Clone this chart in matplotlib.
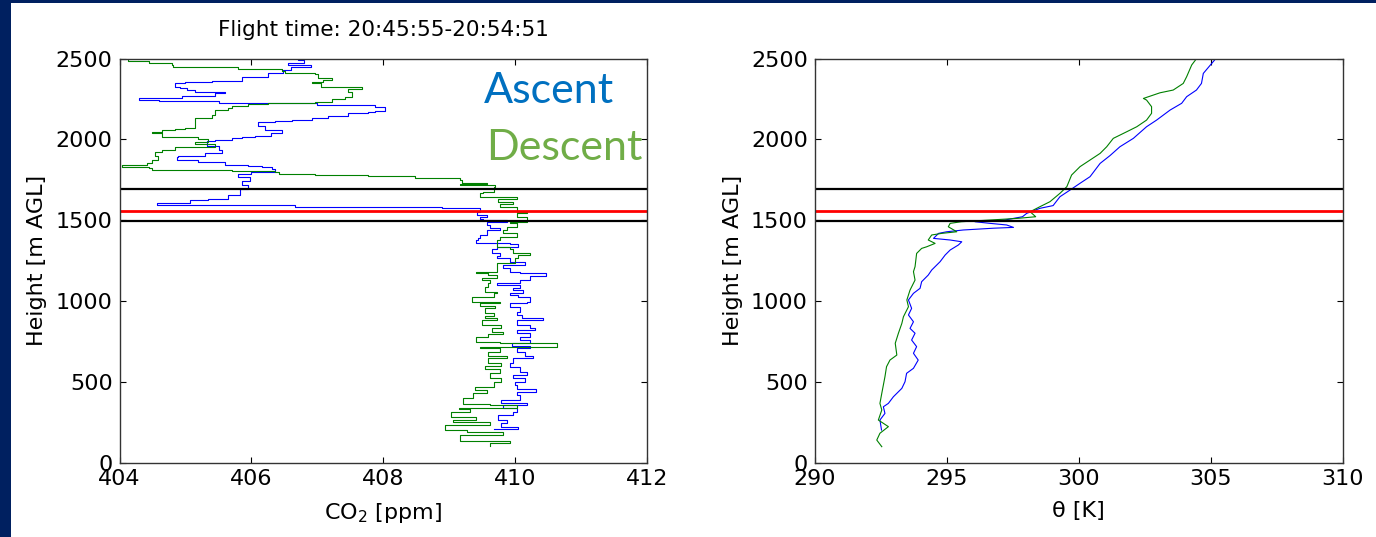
import matplotlib
matplotlib.use('Agg')
import matplotlib.pyplot as plt
from matplotlib.patches import Rectangle

# ---- CO2 ascent (blue), bottom -> top
co2_asc_h = [205, 218, 243, 263, 294, 314, 335, 356, 370, 387,
             418, 438, 453, 480, 500, 521, 541, 562, 593, 614,
             645, 659, 686, 707, 721, 740, 758, 778, 800, 820,
             830, 851, 882, 892, 913, 933, 964, 985, 995, 1026,
             1036, 1047, 1067, 1078, 1098, 1113, 1129, 1154, 1171, 1181,
             1202, 1222, 1243, 1264, 1278, 1298, 1319, 1335, 1352, 1360,
             1377, 1390, 1408, 1439, 1449, 1470, 1490, 1501, 1510, 1521,
             1531, 1552, 1573, 1583, 1595, 1606, 1612, 1625, 1629, 1655,
             1690, 1720, 1745, 1765, 1785, 1800, 1816, 1829, 1835, 1841,
             1860, 1872, 1890, 1897, 1915, 1934, 1960, 1991, 1996, 2008,
             2014, 2020, 2040, 2060, 2080, 2109, 2115, 2119, 2130, 2144,
             2161, 2171, 2177, 2198, 2212, 2223, 2235, 2243, 2258, 2268,
             2288, 2290, 2305, 2317, 2325, 2348, 2355, 2361, 2385, 2410,
             2429, 2445, 2460, 2475, 2490, 2510]
co2_asc = [409.67, 410.04, 409.79, 409.87, 409.74, 409.97, 410.02, 409.82, 410.17, 409.79,
           410.07, 410.02, 410.32, 410.02, 409.99, 410.15, 409.97, 410.17, 410.07, 409.92,
           409.97, 410.27, 410.15, 410.02, 410.22, 409.95, 410.22, 410.07, 410.22, 410.02,
           410.30, 410.22, 410.02, 410.42, 410.10, 410.02, 410.07, 409.92, 410.17, 410.22,
           410.04, 409.92, 410.12, 409.97, 410.07, 409.72, 410.07, 410.22, 410.47, 410.07,
           409.92, 409.82, 410.15, 409.92, 409.72, 409.77, 409.64, 409.72, 410.04, 409.92,
           409.41, 409.43, 409.46, 409.57, 409.77, 409.62, 409.57, 409.87, 409.51, 409.46,
           409.57, 409.42, 409.47, 408.89, 406.66, 404.57, 405.07, 405.07, 405.34, 405.64,
           405.82, 405.95, 405.85, 405.98, 405.80, 406.00, 406.36, 406.31, 406.16, 405.95,
           405.60, 405.19, 404.87, 404.89, 405.29, 405.55, 405.50, 405.33, 405.45, 405.70,
           405.86, 406.05, 406.30, 406.46, 406.20, 406.10, 406.36, 406.61, 406.92, 407.16,
           407.46, 407.77, 407.87, 408.02, 407.87, 407.00, 405.50, 404.60, 404.30, 404.95,
           405.45, 405.60, 405.14, 405.02, 404.92, 404.84, 404.99, 405.40, 405.86, 406.25,
           406.48, 406.60, 406.90, 406.55, 406.80, 406.70]

# ---- CO2 descent (green), top -> bottom
co2_dsc_h = [2501, 2487, 2470, 2460, 2449, 2435, 2425, 2408, 2404, 2377,
             2367, 2356, 2346, 2326, 2309, 2295, 2264, 2248, 2233, 2223,
             2217, 2206, 2192, 2181, 2150, 2130, 2119, 2068, 2062, 2058,
             2047, 2037, 2012, 2000, 1985, 1969, 1954, 1934, 1923, 1897,
             1872, 1851, 1841, 1827, 1821, 1810, 1806, 1800, 1783, 1779,
             1773, 1762, 1759, 1748, 1728, 1723, 1717, 1703, 1676, 1666,
             1645, 1629, 1614, 1600, 1583, 1552, 1542, 1521, 1490, 1480,
             1459, 1439, 1418, 1397, 1377, 1335, 1320, 1294, 1284, 1264,
             1233, 1181, 1171, 1160, 1140, 1129, 1109, 1088, 1057, 1047,
             1022, 995, 985, 968, 954, 923, 907, 892, 882, 851,
             830, 809, 793, 775, 748, 738, 717, 707, 686, 659,
             645, 614, 597, 577, 552, 521, 500, 469, 449, 428,
             397, 362, 356, 335, 329, 314, 280, 263, 252, 232,
             201, 191, 170, 135, 119, 102]
co2_dsc = [404.11, 404.13, 404.44, 404.79, 404.81, 405.80, 406.46, 406.51, 406.96, 407.01,
           407.22, 407.09, 406.91, 407.06, 407.67, 407.47, 407.52, 407.42, 407.22, 406.96,
           406.25, 405.95, 405.70, 405.65, 405.45, 405.40, 405.14, 405.14, 404.99, 404.84,
           404.64, 404.49, 404.64, 405.19, 405.34, 405.14, 405.45, 404.84, 404.64, 404.54,
           404.59, 404.49, 404.41, 404.03, 404.44, 404.49, 405.70, 406.36, 406.41, 406.96,
           407.77, 408.48, 408.50, 409.16, 409.19, 409.57, 409.16, 409.69, 409.67, 409.51,
           409.46, 410.02, 409.74, 409.97, 409.77, 410.02, 410.17, 410.02, 410.17, 409.92,
           410.02, 409.87, 409.82, 410.02, 409.77, 409.72, 409.92, 409.97, 410.22, 410.04,
           409.99, 409.72, 409.41, 409.59, 409.72, 409.49, 409.62, 409.59, 409.54, 409.72,
           409.67, 409.34, 409.77, 409.46, 409.69, 409.54, 409.67, 409.54, 409.72, 409.49,
           409.79, 409.64, 409.82, 409.59, 409.41, 409.77, 410.63, 409.46, 409.77, 409.59,
           409.87, 409.59, 409.79, 409.54, 409.77, 409.62, 409.79, 409.67, 409.39, 409.57,
           409.36, 409.21, 409.62, 410.02, 409.14, 409.31, 409.03, 409.41, 409.06, 409.62,
           408.93, 409.26, 409.82, 409.16, 409.92, 409.62]

# ---- potential temperature ascent (blue), bottom -> top
th_asc_h = [201, 263, 304, 345, 366, 407, 459, 500, 552, 583,
            634, 676, 717, 758, 800, 830, 871, 913, 954, 1006,
            1047, 1078, 1119, 1160, 1191, 1243, 1284, 1315, 1346, 1366,
            1377, 1387, 1418, 1428, 1439, 1450, 1455, 1470, 1480, 1490,
            1501, 1521, 1542, 1573, 1590, 1645, 1686, 1728, 1769, 1851,
            1900, 1954, 2006, 2078, 2119, 2181, 2223, 2264, 2305, 2346,
            2408, 2501]
th_asc = [292.53, 292.47, 292.66, 292.60, 292.79, 292.98, 293.30, 293.42, 293.48, 293.74,
          293.92, 293.74, 293.86, 293.67, 293.80, 293.61, 293.74, 293.55, 293.67, 293.55,
          293.74, 293.99, 294.05, 294.30, 294.43, 294.75, 294.94, 295.13, 295.44, 295.57,
          295.13, 294.50, 294.69, 295.00, 295.63, 296.77, 297.53, 297.27, 296.64, 296.07,
          297.21, 297.87, 298.03, 298.53, 299.03, 299.29, 299.67, 300.05, 300.43, 300.81,
          301.19, 301.56, 302.07, 302.57, 302.95, 303.46, 303.90, 304.09, 304.46, 304.65,
          304.72, 305.20]

# ---- potential temperature descent (green), top -> bottom
th_dsc_h = [2501, 2460, 2388, 2346, 2305, 2288, 2253, 2243, 2202, 2161,
            2119, 2078, 2047, 2006, 1954, 1913, 1872, 1831, 1779, 1707,
            1666, 1614, 1583, 1552, 1521, 1511, 1490, 1480, 1459, 1428,
            1418, 1408, 1377, 1356, 1335, 1325, 1294, 1212, 1181, 1129,
            1067, 1006, 964, 902, 861, 800, 738, 665, 634, 593,
            531, 428, 366, 325, 263, 222, 181, 139, 98]
th_dsc = [304.47, 304.28, 304.09, 303.96, 303.58, 303.08, 302.45, 302.57, 302.76, 302.76,
          302.57, 302.20, 301.82, 301.31, 301.06, 300.81, 300.43, 300.05, 299.73, 299.55,
          299.29, 298.91, 298.53, 298.16, 298.37, 297.70, 295.55, 295.13, 295.06, 295.38,
          294.81, 294.43, 294.30, 294.56, 294.24, 294.05, 293.86, 293.80, 293.74, 293.80,
          293.61, 293.49, 293.55, 293.36, 293.30, 293.17, 293.05, 293.11, 292.85, 292.72,
          292.66, 292.54, 292.47, 292.54, 292.41, 292.79, 292.47, 292.35, 292.54]

# layer boundaries [m AGL]
black_levels = [1690, 1493]
red_levels = [1557]

co2_ticks = [404, 406, 408, 410, 412]
th_ticks = [290, 295, 300, 305, 310]
h_ticks = [0, 500, 1000, 1500, 2000, 2500]

fig = plt.figure(figsize=(13.76, 5.37), dpi=100, facecolor='#002060')
# white slide area, navy strip on the top and left edges
fig.patches.append(Rectangle((11 / 1376, 0), 1, 1 - 3 / 537, transform=fig.transFigure,
                             facecolor='white', edgecolor='none', zorder=-5))

ax1 = fig.add_axes([0.0869, 0.1387, 0.3835, 0.7523])
ax2 = fig.add_axes([0.5921, 0.1387, 0.3837, 0.7523])

ax1.plot(co2_asc, co2_asc_h, color='#0000FF', lw=0.8, drawstyle='steps-post')
ax1.plot(co2_dsc, co2_dsc_h, color='#008000', lw=0.8, drawstyle='steps-post')
ax2.plot(th_asc, th_asc_h, color='#0000FF', lw=0.8)
ax2.plot(th_dsc, th_dsc_h, color='#008000', lw=0.8)

for ax in (ax1, ax2):
    for lev in black_levels:
        ax.axhline(lev, color='black', lw=1.6)
    for lev in red_levels:
        ax.axhline(lev, color='#FF0000', lw=2.0)
    ax.set_ylim(0, 2500)
    ax.set_yticks(h_ticks)
    ax.set_facecolor('white')
    ax.tick_params(direction='in', top=True, right=True, length=4, width=0.8,
                   labelsize=16, colors='black', pad=5)
    for s in ax.spines.values():
        s.set_color('#333333')
        s.set_linewidth(1.0)
    ax.set_ylabel('Height [m AGL]', fontsize=16, labelpad=6)

ax1.set_xlim(404, 412)
ax1.set_xticks(co2_ticks)
ax1.set_xlabel('CO$_2$ [ppm]', fontsize=16, labelpad=8)
ax1.set_title('Flight time: 20:45:55-20:54:51', fontsize=15.5, pad=16)

ax2.set_xlim(290, 310)
ax2.set_xticks(th_ticks)
ax2.set_xlabel('θ [K]', fontsize=16, labelpad=8)

ax1.text(0.6906, 0.8906, 'Ascent', transform=ax1.transAxes, fontsize=31,
         family='Lato', color='#0070C0', ha='left', va='baseline')
ax1.text(0.6943, 0.7488, 'Descent', transform=ax1.transAxes, fontsize=31,
         family='Lato', color='#70AD47', ha='left', va='baseline')

fig.savefig('out.png', dpi=100, facecolor=fig.get_facecolor())
